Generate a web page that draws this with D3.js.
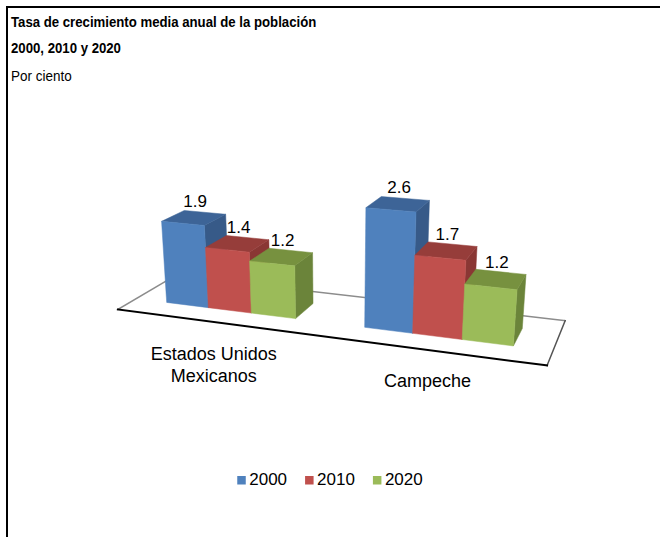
<!DOCTYPE html>
<html>
<head>
<meta charset="utf-8">
<script src="https://cdn.jsdelivr.net/npm/d3@7"></script>
<style>
  body { margin: 0; background: #fff; }
  svg { display: block; font-family: "Liberation Sans", Arial, sans-serif; }
</style>
</head>
<body>
<div id="chart"></div>
<script>
// data
const categories = ["Estados Unidos\nMexicanos", "Campeche"];
const years = ["2000", "2010", "2020"];
const values2000 = [1.9, 2.6];
const values2010 = [1.4, 1.7];
const values2020 = [1.2, 1.2];
const valueMax = 3;

const seriesValues = [values2000, values2010, values2020];

const width = 660;
const height = 537;

// face colours per series
const colorFront = d3.scaleOrdinal(years, ["#4F81BD", "#C0504D", "#9BBB59"]);
const colorTop = d3.scaleOrdinal(years, ["#3D6497", "#963D3A", "#77913F"]);
const colorSide = d3.scaleOrdinal(years, ["#375A88", "#8A3734", "#6B843A"]);

// world scales (units ~ pixels at the floor centre)
const floorWidth = 432;
const floorDepth = 120;
const x0 = d3.scaleBand().domain(categories).range([-floorWidth / 2, floorWidth / 2]);
const x1 = d3.scaleBand().domain(years).range([0, x0.bandwidth()]).paddingInner(0).paddingOuter(0.75);
const zBand = d3.scaleBand().domain(["row"]).range([-floorDepth / 2, floorDepth / 2]).paddingOuter(0.75);
const y = d3.scaleLinear().domain([0, valueMax]).range([0, 136.5]);

// perspective camera
const cam = { f: 980, dist: 980, yaw: 19.7, pitch: 20, cx: 338, cy: 315 };
const project = ([X, Y, Z]) => {
  const a = (cam.yaw * Math.PI) / 180;
  const b = (cam.pitch * Math.PI) / 180;
  const xc = X * Math.cos(a) + Z * Math.sin(a);
  const z1 = -X * Math.sin(a) + Z * Math.cos(a);
  const yc = Y * Math.cos(b) + z1 * Math.sin(b);
  const zc = -Y * Math.sin(b) + z1 * Math.cos(b);
  const k = cam.f / (zc + cam.dist);
  return [cam.cx + xc * k, cam.cy - yc * k];
};
const line = d3.line();
const poly = (pts) => line(pts.map(project)) + "Z";

const svg = d3
  .select("#chart")
  .append("svg")
  .attr("width", width)
  .attr("height", height)
  .attr("viewBox", [0, 0, width, height]);

// frame (top and left borders only)
svg.append("line").attr("x1", 6).attr("x2", width).attr("y1", 7).attr("y2", 7)
  .attr("stroke", "#000").attr("stroke-width", 2);
svg.append("line").attr("x1", 7).attr("x2", 7).attr("y1", 6).attr("y2", height)
  .attr("stroke", "#000").attr("stroke-width", 2);

// titles
const titles = [
  { text: "Tasa de crecimiento media anual de la población", y: 27, bold: true },
  { text: "2000, 2010 y 2020", y: 53, bold: true },
  { text: "Por ciento", y: 81, bold: false },
];
svg.append("g")
  .selectAll("text")
  .data(titles)
  .join("text")
  .attr("transform", (d) => `translate(11,${d.y}) scale(${d.bold ? 0.88 : 0.93},1)`)
  .attr("font-size", (d) => (d.bold ? 15 : 14.5))
  .attr("font-weight", (d) => (d.bold ? "bold" : "normal"))
  .attr("fill", "#000")
  .text((d) => d.text);

// floor
const fx0 = -floorWidth / 2, fx1 = floorWidth / 2;
const fz0 = -floorDepth / 2, fz1 = floorDepth / 2;
const floorEdges = [
  { pts: [[fx0, 0, fz0], [fx0, 0, fz1]], stroke: "#8c8c8c", w: 1.5 },
  { pts: [[fx0, 0, fz1], [fx1, 0, fz1]], stroke: "#8c8c8c", w: 1.5 },
  { pts: [[fx1, 0, fz1], [fx1, 0, fz0]], stroke: "#555", w: 1.5 },
  { pts: [[fx0, 0, fz0], [fx1, 0, fz0]], stroke: "#000", w: 2 },
];
svg.append("path")
  .attr("d", poly([[fx0, 0, fz0], [fx1, 0, fz0], [fx1, 0, fz1], [fx0, 0, fz1]]))
  .attr("fill", "#fff");
svg.append("g")
  .selectAll("path")
  .data(floorEdges)
  .join("path")
  .attr("d", (d) => line(d.pts.map(project)))
  .attr("fill", "none")
  .attr("stroke", (d) => d.stroke)
  .attr("stroke-width", (d) => d.w)
  .attr("stroke-linecap", "square");

// bars, far (left) to near (right)
const bars = categories.flatMap((cat, i) =>
  years.map((yr, j) => ({
    cat,
    year: yr,
    value: seriesValues[j][i],
    X0: x0(cat) + x1(yr),
    X1: x0(cat) + x1(yr) + x1.bandwidth(),
    Z0: zBand("row"),
    Z1: zBand("row") + zBand.bandwidth(),
  }))
).sort((a, b) => a.X0 - b.X0);

const barG = svg.append("g")
  .selectAll("g")
  .data(bars)
  .join("g");

barG.append("path")
  .attr("d", (d) => { const H = y(d.value);
    return poly([[d.X1, 0, d.Z0], [d.X1, 0, d.Z1], [d.X1, H, d.Z1], [d.X1, H, d.Z0]]); })
  .attr("fill", (d) => colorSide(d.year))
  .attr("stroke", (d) => colorSide(d.year)).attr("stroke-width", 0.5);
barG.append("path")
  .attr("d", (d) => { const H = y(d.value);
    return poly([[d.X0, H, d.Z0], [d.X1, H, d.Z0], [d.X1, H, d.Z1], [d.X0, H, d.Z1]]); })
  .attr("fill", (d) => colorTop(d.year))
  .attr("stroke", (d) => colorTop(d.year)).attr("stroke-width", 0.5);
barG.append("path")
  .attr("d", (d) => { const H = y(d.value);
    return poly([[d.X0, 0, d.Z0], [d.X1, 0, d.Z0], [d.X1, H, d.Z0], [d.X0, H, d.Z0]]); })
  .attr("fill", (d) => colorFront(d.year))
  .attr("stroke", (d) => colorFront(d.year)).attr("stroke-width", 0.5);

// data labels
const fmt = d3.format(".1f");
svg.append("g")
  .selectAll("text")
  .data(bars)
  .join("text")
  .each(function (d) {
    const [u, v] = project([(d.X0 + d.X1) / 2, y(d.value), 0]);
    d3.select(this).attr("x", u + 1).attr("y", v - 11);
  })
  .attr("text-anchor", "middle")
  .attr("font-size", 17)
  .attr("fill", "#000")
  .text((d) => fmt(d.value));

// category labels along the front edge
svg.append("g")
  .selectAll("text")
  .data(categories)
  .join("text")
  .each(function (cat) {
    const [u, v] = project([x0(cat) + x0.bandwidth() / 2, 0, fz0]);
    d3.select(this)
      .selectAll("tspan")
      .data(cat.split("\n"))
      .join("tspan")
      .attr("x", u)
      .attr("y", (t, k) => v + 37.5 + k * 22)
      .text((t) => t);
  })
  .attr("text-anchor", "middle")
  .attr("font-size", 18)
  .attr("fill", "#000");

// legend
const legend = svg.append("g").attr("font-size", 17);
const items = legend.selectAll("g").data(years).join("g");
items.append("rect")
  .attr("y", 476)
  .attr("width", 8.5)
  .attr("height", 8.5)
  .attr("fill", (d) => colorFront(d));
items.append("text")
  .attr("x", 12)
  .attr("y", 484.5)
  .attr("fill", "#000")
  .text((d) => d);
let offset = 0;
const gap = 18;
items.each(function () {
  d3.select(this).attr("data-off", offset);
  offset += this.getBBox().width + gap;
});
const total = offset - gap;
items.attr("transform", function () {
  return `translate(${330 - total / 2 + +this.getAttribute("data-off")},0)`;
});
</script>
</body>
</html>
